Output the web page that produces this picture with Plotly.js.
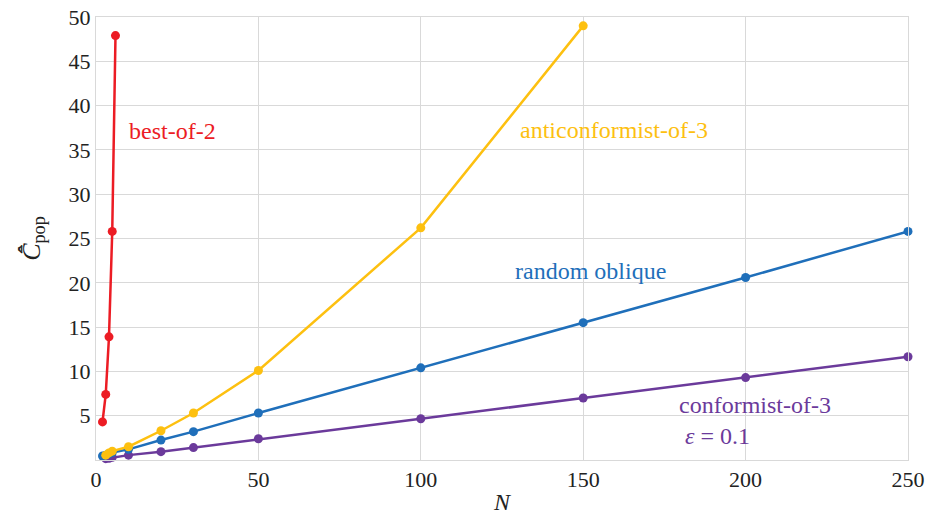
<!DOCTYPE html>
<html>
<head>
<meta charset="utf-8">
<script src="https://cdn.plot.ly/plotly-3.0.1.min.js"></script>
<style>html,body{margin:0;padding:0;background:#fff;}#chart{width:929px;height:515px;}</style>
</head>
<body>
<div id="chart"></div>
<script>
// Data
const bestN = [2, 3, 4, 5, 6];
const bestC = [4.3, 7.4, 13.9, 25.8, 47.9];

const antiN = [3, 4, 5, 10, 20, 30, 50, 100, 150];
const antiC = [0.55, 0.8, 1.0, 1.5, 3.3, 5.3, 10.1, 26.2, 49.0];

const randN = [2, 3, 4, 5, 10, 20, 30, 50, 100, 150, 200, 250];
const randC = [0.45, 0.55, 0.7, 0.85, 1.2, 2.25, 3.2, 5.3, 10.4, 15.5, 20.6, 25.8];

const confN = [3, 4, 5, 10, 20, 30, 50, 100, 150, 200, 250];
const confC = [0.15, 0.2, 0.3, 0.55, 0.94, 1.4, 2.4, 4.65, 7.0, 9.3, 11.65];

const xTicks = [0, 50, 100, 150, 200, 250];
const yTicks = [5, 10, 15, 20, 25, 30, 35, 40, 45, 50];

const colors = {best: '#ec1c24', anti: '#fdc010', rand: '#1f6fba', conf: '#6b3a9b'};

function tr(x, y, c) {
  return {x: x, y: y, type: 'scatter', mode: 'lines+markers',
    line: {color: c, width: 2.5}, marker: {color: c, size: 9}, showlegend: false, cliponaxis: false};
}

const data = [
  tr(confN, confC, colors.conf),
  tr(randN, randC, colors.rand),
  tr(antiN, antiC, colors.anti),
  tr(bestN, bestC, colors.best)
];

const font = 'Liberation Serif';
function ann(x, y, text, c, anchor) {
  return {x: x, y: y, xref: 'x', yref: 'y', text: text, showarrow: false,
    font: {family: font, size: 24, color: c}, xanchor: anchor || 'center', yanchor: 'middle'};
}

const layout = {
  width: 929, height: 515,
  margin: {l: 96, r: 21, t: 17, b: 55},
  paper_bgcolor: '#fff', plot_bgcolor: '#fff',
  font: {family: font, size: 21, color: '#222'},
  xaxis: {range: [0, 250], tickvals: xTicks, ticktext: xTicks.map(String),
    showgrid: true, gridcolor: '#d9d9d9', gridwidth: 1, zeroline: false,
    showline: true, linecolor: '#d9d9d9', mirror: true, ticks: '',
    tickfont: {family: font, size: 22, color: '#222'},
    title: {text: '<i>N</i>', font: {family: font, size: 24, color: '#222'}, standoff: 2}},
  yaxis: {range: [0, 50], tickvals: yTicks, ticktext: yTicks.map(String),
    showgrid: true, gridcolor: '#d9d9d9', gridwidth: 1, zeroline: false,
    showline: true, linecolor: '#d9d9d9', mirror: true, ticks: '',
    tickfont: {family: font, size: 22, color: '#222'},
    title: {text: '<i>C\u0304\u0302</i><sub>pop</sub>', font: {family: font, size: 26, color: '#222'}, standoff: 20}},
  annotations: [
    ann(23.5, 37.1, 'best-of-2', colors.best),
    ann(159.5, 37.2, 'anticonformist-of-3', colors.anti),
    ann(152.2, 21.3, 'random oblique', colors.rand),
    ann(202.9, 6.2, 'conformist-of-3', colors.conf),
    ann(180.8, 2.7, '<i>ε</i> = 0.1', colors.conf, 'left')
  ]
};

Plotly.newPlot('chart', data, layout, {displayModeBar: false, staticPlot: true});
</script>
</body>
</html>
